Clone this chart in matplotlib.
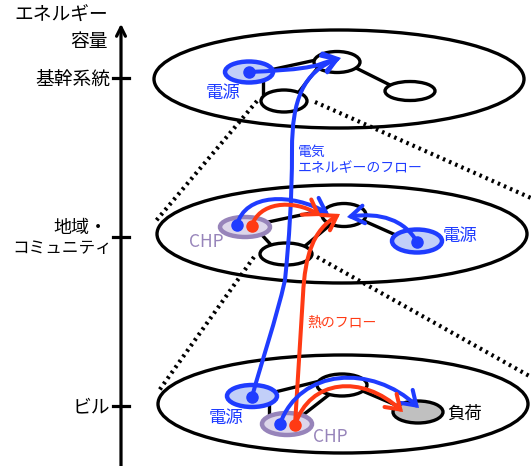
import matplotlib
matplotlib.use("Agg")
import matplotlib.pyplot as plt
from matplotlib.patches import Ellipse, FancyArrowPatch
from matplotlib.path import Path

plt.rcParams['font.family'] = ['Noto Sans CJK JP', 'DejaVu Sans']

# ---- contenuto: livelli e testi ----
AXIS_TITLE = ["エネルギー", "容量"]
LEVELS = ["基幹系統", ["地域・", "コミュニティ"], "ビル"]
LEVEL_Y = [78, 237, 406]
FLOW_ELEC = "電気\nエネルギーのフロー"
FLOW_HEAT = "熱のフロー"

BLUE, RED = "#1f3cff", "#ff3a14"
BLUE_FILL = "#c2cff8"
PURPLE, PURPLE_FILL = "#9784ba", "#ddd6ea"
GRAY_FILL = "#c0c0c0"

# ---- layout (pixel) ----
LAYERS = [(339, 79), (342, 234), (343, 404)]   # centro ellissi di livello
LAYER_W, LAYER_H = 370, 98

# nodi: (x, y, w, h, stile)
NODES = [
    (249, 72, 48, 21, "src"), (337, 62, 46, 21, "n"), (410, 91, 50, 19, "n"), (284, 101, 46, 22, "n"),
    (245, 227, 50, 20, "chp"), (344, 215, 44, 23, "n"), (417, 241, 50, 23, "src"), (286, 254, 52, 22, "n"),
    (252, 396, 50, 22, "src"), (342, 385, 50, 22, "n"), (418, 412, 50, 22, "load"), (287, 424, 50, 22, "chp"),
]
EDGES = [
    ((270, 70), (316, 60)), ((356, 68), (392, 86)), ((263, 80), (263, 93)), ((316, 70), (298, 93)),
    ((268, 222), (325, 210)), ((362, 220), (398, 236)), ((262, 235), (273, 247)), ((330, 225), (305, 246)),
    ((275, 392), (320, 381)), ((365, 392), (398, 406)), ((269, 405), (269, 416)), ((330, 394), (303, 415)),
]
DOTS = [((249, 72), BLUE), ((237, 225), BLUE), ((252, 226), RED), ((417, 242), BLUE),
        ((252, 397), BLUE), ((280, 424), BLUE), ((295, 425), RED)]
DOTTED = [((257, 101), (155, 222)), ((315, 102), (540, 202)),
          ((254, 257), (158, 392)), ((317, 257), (540, 382))]

# frecce: (colore, punti bezier cubici concatenati)
ARROWS = [
    (BLUE, [(249, 72), (270, 71), (300, 70), (318, 65), (326, 62), (333, 60), (341, 58)]),
    (BLUE, [(252, 397), (262, 360), (276, 320), (285, 280), (289, 240), (292, 200), (292, 150),
            (292, 100), (303, 72), (340, 58)]),
    (BLUE, [(237, 225), (245, 193), (292, 193), (329, 214)]),
    (RED, [(252, 226), (258, 203), (292, 198), (321, 216)]),
    (BLUE, [(417, 242), (405, 220), (380, 212), (347, 217)]),
    (RED, [(295, 425), (298, 380), (300, 340), (303, 295), (305, 255), (313, 230), (340, 214)]),
    (BLUE, [(280, 424), (300, 368), (372, 364), (419, 408)]),
    (RED, [(295, 425), (310, 379), (362, 374), (403, 412)]),
]

fig = plt.figure(figsize=(5.31, 4.66), dpi=100)
ax = fig.add_axes([0, 0, 1, 1])
ax.set_xlim(0, 531); ax.set_ylim(466, 0); ax.axis("off")

# asse verticale
ax.annotate("", xy=(121, 21), xytext=(121, 470),
            arrowprops=dict(arrowstyle="->", lw=2.3, color="black", mutation_scale=16))
for lab, y in zip(LEVELS, LEVEL_Y):
    ax.plot([113, 129], [y, y], color="black", lw=2.3)
    if isinstance(lab, list):
        ax.text(108, y - 9, lab[0], ha="right", va="center", fontsize=13)
        ax.text(112, y + 11, lab[1], ha="right", va="center", fontsize=12)
    else:
        ax.text(110, y + 1, lab, ha="right", va="center", fontsize=13.5)
ax.text(108, 15, AXIS_TITLE[0], ha="right", va="center", fontsize=13.5)
ax.text(108, 42, AXIS_TITLE[1], ha="right", va="center", fontsize=13.5)

# livelli
for cx, cy in LAYERS:
    ax.add_patch(Ellipse((cx, cy), LAYER_W, LAYER_H, fill=False, ec="black", lw=2.4, zorder=1))
for a, b in DOTTED:
    ax.plot([a[0], b[0]], [a[1], b[1]], ls=(0, (0.6, 1.0)), lw=3, color="black", zorder=1)
for a, b in EDGES:
    ax.plot([a[0], b[0]], [a[1], b[1]], color="black", lw=2.4, zorder=2)

stili = {"n": ("black", "white", 2.4), "src": (BLUE, BLUE_FILL, 3.2),
         "chp": (PURPLE, PURPLE_FILL, 3.2), "load": ("black", GRAY_FILL, 2.4)}
for x, y, w, h, s in NODES:
    ec, fc, lw = stili[s]
    ax.add_patch(Ellipse((x, y), w, h, ec=ec, fc=fc, lw=lw, zorder=3))

for col, pts in ARROWS:
    codes = [Path.MOVETO] + [Path.CURVE4] * (len(pts) - 1)
    ax.add_patch(FancyArrowPatch(path=Path(pts, codes), arrowstyle="->,head_length=0.6,head_width=0.4",
                                 mutation_scale=16, color=col, lw=2.9, zorder=5, capstyle="round",
                                 joinstyle="miter"))
for (x, y), col in DOTS:
    ax.plot(x, y, "o", ms=8, color=col, zorder=6)

# etichette
ax.text(223, 93, "電源", color=BLUE, fontsize=12.5, ha="center", va="center")
ax.text(460, 236, "電源", color=BLUE, fontsize=12.5, ha="center", va="center")
ax.text(226, 418, "電源", color=BLUE, fontsize=12.5, ha="center", va="center")
ax.text(206, 242, "CHP", color=PURPLE, fontsize=12.5, ha="center", va="center")
ax.text(330, 437, "CHP", color=PURPLE, fontsize=12.5, ha="center", va="center")
ax.text(465, 414, "負荷", color="black", fontsize=12.5, ha="center", va="center")
ax.text(298, 160, FLOW_ELEC, color=BLUE, fontsize=10, ha="left", va="center", linespacing=1.25)
ax.text(307, 323, FLOW_HEAT, color=RED, fontsize=10, ha="left", va="center")

fig.savefig("out.png", dpi=100)
